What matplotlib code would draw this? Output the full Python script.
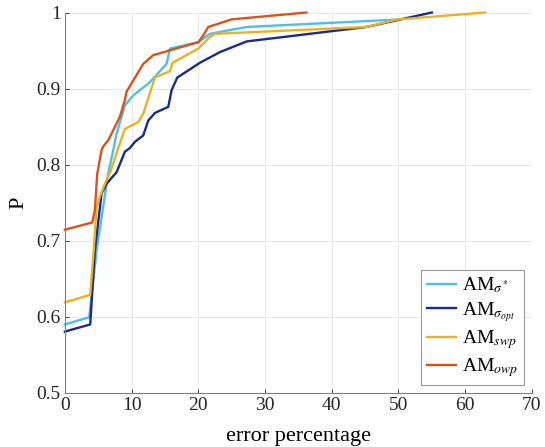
import numpy as np
import matplotlib
matplotlib.use('Agg')
import matplotlib.pyplot as plt

plt.rcParams['font.family'] = ['Liberation Serif', 'DejaVu Serif']
plt.rcParams['mathtext.fontset'] = 'stix'

# curves (error percentage, P)
x_sig_star = [0, 3.65, 4.8, 5.75, 6.5, 7.25, 7.75, 9.0, 10.25, 12.75, 15.25,
              15.75, 20.0, 21.75, 27.25, 50.0]
p_sig_star = [0.59, 0.5995, 0.69, 0.745, 0.789, 0.819, 0.8405, 0.878, 0.891,
              0.9085, 0.9325, 0.9526, 0.961, 0.972, 0.981, 0.9908]

x_sig_opt = [0, 3.8, 4.5, 5.5, 6.25, 7.75, 9.0, 9.75, 10.5, 11.75, 12.5, 13.5,
             15.5, 16.0, 16.85, 20.25, 23.25, 27.25, 45.2, 55.0]
p_sig_opt = [0.5806, 0.59, 0.6875, 0.762, 0.775, 0.79, 0.817, 0.822, 0.83,
             0.8385, 0.858, 0.868, 0.876, 0.898, 0.9145, 0.934, 0.948, 0.962,
             0.981, 1.0]

x_swp = [0, 3.8, 4.3, 4.75, 5.25, 6.0, 6.75, 7.75, 8.0, 9.0, 11.0, 11.75, 13.5,
         15.75, 16.15, 20.0, 21.75, 22.5, 45.2, 49.8, 63.0]
p_swp = [0.619, 0.629, 0.685, 0.744, 0.758, 0.775, 0.789, 0.8145, 0.822, 0.847,
         0.856, 0.867, 0.9145, 0.923, 0.934, 0.9525, 0.968, 0.972, 0.981,
         0.9908, 1.0]

x_owp = [0, 4.1, 4.5, 4.85, 5.5, 5.75, 6.5, 8.25, 9.0, 9.25, 10.0, 11.75, 13.25,
         15.25, 20.0, 20.75, 21.5, 25.0, 36.2]
p_owp = [0.7145, 0.724, 0.74, 0.788, 0.819, 0.824, 0.832, 0.863, 0.885, 0.896,
         0.907, 0.9325, 0.944, 0.949, 0.961, 0.970, 0.981, 0.991, 1.0]

labels = [r'AM$_{\sigma^*}$', r'AM$_{\sigma_{opt}}$', r'AM$_{swp}$', r'AM$_{owp}$']
colors = ['#4DBEEE', '#1A2A8C', '#EDB120', '#D95319']

x_ticks = [0, 10, 20, 30, 40, 50, 60, 70]
y_ticks = [0.5, 0.6, 0.7, 0.8, 0.9, 1.0]
y_tick_labels = ['0.5', '0.6', '0.7', '0.8', '0.9', '1']

fig = plt.figure(figsize=(5.45, 4.47), dpi=100)
ax = fig.add_axes([0.119, 0.121, 0.857, 0.851])

curves = [(x_sig_star, p_sig_star), (x_sig_opt, p_sig_opt),
          (x_swp, p_swp), (x_owp, p_owp)]
for (xs, ps), lab, col in zip(curves, labels, colors):
    ax.plot(xs, ps, color=col, lw=1.7, label=lab, clip_on=False)

ax.set_xlim(0, 70)
ax.set_ylim(0.5, 1.0)
ax.set_xticks(x_ticks)
ax.set_yticks(y_ticks)
ax.set_yticklabels(y_tick_labels)
ax.tick_params(direction='in', length=3, width=0.6, colors='#262626',
               labelsize=14, pad=3)
ax.grid(True, color='#E3E3E3', lw=0.6)
ax.set_axisbelow(True)
for s in ['top', 'right']:
    ax.spines[s].set_visible(False)
for s in ['left', 'bottom']:
    ax.spines[s].set_color('#808080')
    ax.spines[s].set_linewidth(0.8)

ax.set_xlabel('error percentage', fontsize=16, labelpad=9)
ax.set_ylabel('P', fontsize=16, labelpad=6)

leg = ax.legend(loc='lower right', bbox_to_anchor=(0.983, 0.021),
                borderaxespad=0, fontsize=14, handlelength=1.5,
                handletextpad=0.3, labelspacing=0.25, borderpad=0.3,
                fancybox=False, framealpha=1, edgecolor='#999999')
leg.get_frame().set_linewidth(0.8)

fig.savefig('out.png', dpi=100)
